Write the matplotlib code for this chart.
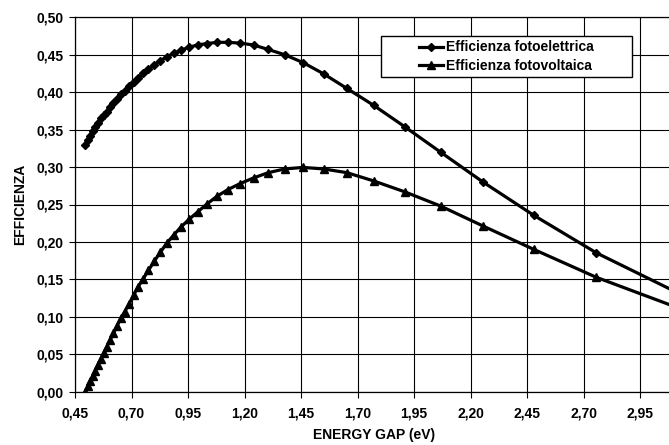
import matplotlib
matplotlib.use("Agg")
import matplotlib.pyplot as plt
from matplotlib.patches import Rectangle

# ---- data ----
energy_gap = [0.496, 0.506, 0.517, 0.528, 0.539, 0.551, 0.564, 0.577, 0.590, 0.605,
              0.620, 0.636, 0.653, 0.670, 0.689, 0.709, 0.729, 0.752, 0.775, 0.800,
              0.827, 0.855, 0.886, 0.919, 0.954, 0.992, 1.033, 1.078, 1.127, 1.181,
              1.240, 1.305, 1.378, 1.459, 1.550, 1.653, 1.771, 1.908, 2.067, 2.255,
              2.480, 2.756, 3.100]

eff_fotoelettrica = [0.330, 0.336, 0.342, 0.348, 0.354, 0.359, 0.365, 0.370, 0.374, 0.380,
                     0.385, 0.391, 0.397, 0.402, 0.408, 0.414, 0.419, 0.425, 0.431, 0.436,
                     0.442, 0.447, 0.452, 0.456, 0.460, 0.463, 0.465, 0.4665, 0.4666, 0.4655,
                     0.463, 0.457, 0.450, 0.4395, 0.4245, 0.405, 0.3825, 0.354, 0.320, 0.280,
                     0.2355, 0.1855, 0.1345]

eff_fotovoltaica = [0.000, 0.007, 0.014, 0.021, 0.028, 0.036, 0.044, 0.052, 0.060, 0.069,
                    0.078, 0.088, 0.098, 0.107, 0.117, 0.129, 0.140, 0.151, 0.162, 0.174,
                    0.186, 0.198, 0.209, 0.220, 0.230, 0.240, 0.2505, 0.261, 0.270, 0.278,
                    0.2855, 0.2925, 0.2975, 0.2995, 0.2975, 0.2925, 0.2815, 0.267, 0.248, 0.2213,
                    0.190, 0.1528, 0.114]

x_ticks = [0.45, 0.70, 0.95, 1.20, 1.45, 1.70, 1.95, 2.20, 2.45, 2.70, 2.95]
x_tick_labels = ["0,45", "0,70", "0,95", "1,20", "1,45", "1,70", "1,95", "2,20", "2,45", "2,70", "2,95"]
y_ticks = [0.00, 0.05, 0.10, 0.15, 0.20, 0.25, 0.30, 0.35, 0.40, 0.45, 0.50]
y_tick_labels = ["0,00", "0,05", "0,10", "0,15", "0,20", "0,25", "0,30", "0,35", "0,40", "0,45", "0,50"]

series_names = ["Efficienza fotoelettrica", "Efficienza fotovoltaica"]
x_label = "ENERGY GAP (eV)"
y_label = "EFFICIENZA"

# ---- style ----
plt.rcParams['font.family'] = ['Liberation Sans', 'DejaVu Sans']
plt.rcParams['font.weight'] = 'bold'
plt.rcParams['font.size'] = 10

W, H = 669, 445
fig = plt.figure(figsize=(W / 100, H / 100), dpi=100)
left_px, right_px, top_px, bottom_px = 75, 674, 17.3, 391.7
ax = fig.add_axes([left_px / W, 1 - bottom_px / H, (right_px - left_px) / W, (bottom_px - top_px) / H])

ax.plot(energy_gap, eff_fotoelettrica, color='black', lw=2.3, marker='D', ms=4.2,
        mfc='black', mec='black', zorder=3, label=series_names[0])
ax.plot(energy_gap, eff_fotovoltaica, color='black', lw=2.3, marker='^', ms=6.0,
        mfc='black', mec='black', zorder=3, label=series_names[1])

ax.set_xlim(0.45, 3.10)
ax.set_ylim(0.0, 0.50)
ax.set_xticks(x_ticks)
ax.set_xticklabels(x_tick_labels, fontweight='bold')
ax.set_yticks(y_ticks)
ax.set_yticklabels(y_tick_labels, fontweight='bold')
ax.grid(True, color='black', lw=0.8, zorder=0)
ax.set_axisbelow(True)
ax.tick_params(axis='both', direction='out', length=4.5, width=0.8, colors='black', labelsize=10)
ax.tick_params(axis='x', pad=6)
ax.tick_params(axis='y', pad=4)
for side in ['left', 'bottom', 'top']:
    ax.spines[side].set_color('black')
    ax.spines[side].set_linewidth(0.9)
ax.spines['right'].set_visible(False)

fig.text(374.5 / W, 1 - 435 / H, x_label, ha='center', va='center', fontsize=10, fontweight='bold')
fig.text(20 / W, 1 - 204.5 / H, y_label, ha='center', va='center', rotation=90, fontsize=10, fontweight='bold')

# legend box
bx0 = (380.7 - left_px) / (right_px - left_px)
bx1 = (632.3 - left_px) / (right_px - left_px)
by0 = (bottom_px - 77.3) / (bottom_px - top_px)
by1 = (bottom_px - 35.7) / (bottom_px - top_px)
ax.add_patch(Rectangle((bx0, by0), bx1 - bx0, by1 - by0, transform=ax.transAxes,
                       facecolor='white', edgecolor='black', lw=1.0, zorder=4))
leg = ax.legend(loc='center', bbox_to_anchor=((bx0 + bx1) / 2, (by0 + by1) / 2),
                frameon=False, handlelength=1.7, handletextpad=0.25, labelspacing=0.3,
                borderpad=0, borderaxespad=0, prop={'weight': 'bold', 'size': 10})
leg.set_zorder(5)

fig.savefig("out.png", dpi=100)
